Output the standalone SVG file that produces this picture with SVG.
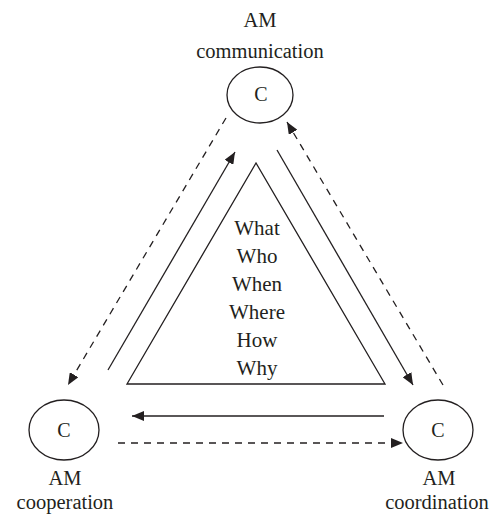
<svg xmlns="http://www.w3.org/2000/svg" width="495" height="516" viewBox="0 0 495 516">
  <style>
    text { font-family: "Liberation Serif", "Times New Roman", serif; fill: #231f20; text-anchor: middle; }
    .lbl { font-size: 20.5px; }
    .c { font-size: 20px; }
    .q { font-size: 21px; }
    .node { fill: #ffffff; stroke: #231f20; stroke-width: 1.3; }
    .solid { fill: none; stroke: #231f20; stroke-width: 1.3; }
    .dash { fill: none; stroke: #231f20; stroke-width: 1.3; stroke-dasharray: 7 6; }
  </style>
  <defs>
    <marker id="head" viewBox="0 0 12 10" refX="12" refY="5" markerWidth="12" markerHeight="10" markerUnits="userSpaceOnUse" orient="auto">
      <path d="M0,0 L12,5 L0,10 Z" fill="#231f20"/>
    </marker>
  </defs>

  <!-- central triangle with the six questions -->
  <g id="questions">
    <polygon class="solid" points="256,163 127,384 385,384"/>
    <text class="q" x="257" y="235">What</text>
    <text class="q" x="257" y="263">Who</text>
    <text class="q" x="257" y="291">When</text>
    <text class="q" x="257" y="319">Where</text>
    <text class="q" x="257" y="347">How</text>
    <text class="q" x="257" y="375">Why</text>
  </g>

  <g id="connectors">
    <line class="solid" x1="108" y1="370" x2="235" y2="152" marker-end="url(#head)"/>
    <line class="solid" x1="277" y1="150" x2="413" y2="385" marker-end="url(#head)"/>
    <line class="solid" x1="384" y1="416" x2="132" y2="416" marker-end="url(#head)"/>
    <line class="dash" x1="226" y1="118" x2="68" y2="385" marker-end="url(#head)"/>
    <line class="dash" x1="443" y1="385" x2="287" y2="122" marker-end="url(#head)"/>
    <line class="dash" x1="118" y1="443" x2="403" y2="443" marker-end="url(#head)"/>
  </g>

  <g id="communication">
    <ellipse class="node" cx="260" cy="95" rx="33" ry="28"/>
    <text class="c" x="261" y="101">C</text>
    <text class="lbl" x="260" y="27">AM</text>
    <text class="lbl" x="260" y="58">communication</text>
  </g>

  <g id="cooperation">
    <ellipse class="node" cx="64" cy="430" rx="35" ry="30"/>
    <text class="c" x="64" y="437">C</text>
    <text class="lbl" x="65" y="485">AM</text>
    <text class="lbl" x="65" y="509">cooperation</text>
  </g>

  <g id="coordination">
    <ellipse class="node" cx="438" cy="430" rx="35" ry="30"/>
    <text class="c" x="438" y="437">C</text>
    <text class="lbl" x="439" y="485">AM</text>
    <text class="lbl" x="437" y="509">coordination</text>
  </g>
</svg>
